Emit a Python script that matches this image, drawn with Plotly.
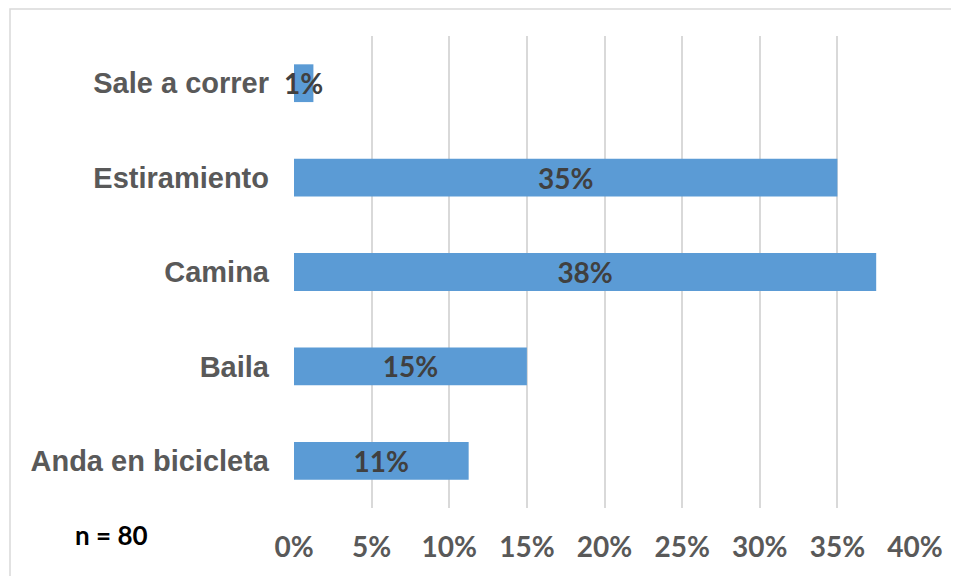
import plotly.graph_objects as go

categories = ["Anda en bicicleta", "Baila", "Camina", "Estiramiento", "Sale a correr"]
values = [0.1125, 0.15, 0.375, 0.35, 0.0125]
tick_vals = [0, 0.05, 0.10, 0.15, 0.20, 0.25, 0.30, 0.35, 0.40]
tick_text = ["0%", "5%", "10%", "15%", "20%", "25%", "30%", "35%", "40%"]
note = "n = 80"

# page body has an 8px default margin; figure is sized to fill the rest
OFF = 8
W, H = 959 - OFF, 576 - OFF
L, R, T, B = 294 - OFF, 44, 36 - OFF, 68
pw = W - L - R
ph = H - T - B

fig = go.Figure()
fig.add_trace(go.Bar(
    y=categories, x=values, orientation="h",
    marker=dict(color="#5B9BD5", line=dict(width=0)),
    texttemplate="%{x:.0%}", textposition="inside", insidetextanchor="middle",
    textangle=0, constraintext="none", cliponaxis=False,
    textfont=dict(family="Lato", size=28, color="#404040", weight="bold"),
    insidetextfont=dict(family="Lato", size=28, color="#404040", weight="bold"),
    hoverinfo="skip",
))

fig.update_layout(
    width=W, height=H,
    margin=dict(l=L, r=R, t=T, b=B, autoexpand=False),
    paper_bgcolor="white", plot_bgcolor="white",
    bargap=0.6, showlegend=False,
    xaxis=dict(range=[0, 0.40], tickvals=tick_vals, ticktext=tick_text,
               showgrid=True, gridcolor="#D9D9D9", gridwidth=1.5,
               zeroline=False, showline=False, ticks="",
               ticklabelstandoff=20,
               tickfont=dict(family="Lato", size=28, color="#595959", weight="bold")),
    yaxis=dict(showgrid=False, zeroline=False, showline=False, ticks="",
               ticklabelstandoff=24,
               tickfont=dict(family="Liberation Sans", size=29, color="#595959", weight="bold")),
)

# outer chart frame (extends past right/bottom edges as in the reference)
fig.add_shape(type="rect", xref="paper", yref="paper",
              x0=(10 - OFF - L) / pw, x1=(W + 20 - L) / pw,
              y0=(H - B - (H + 20)) / ph, y1=(H - B - 1) / ph,
              line=dict(color="#D9D9D9", width=1.5), fillcolor="rgba(0,0,0,0)", layer="below")

fig.add_annotation(text=note, xref="paper", yref="paper",
                   x=(111 - OFF - L) / pw, y=(H - B - (535 - OFF)) / ph,
                   showarrow=False, xanchor="center", yanchor="middle",
                   font=dict(family="Lato", size=26, color="#000000", weight="bold"))

fig.write_html("out.html")
